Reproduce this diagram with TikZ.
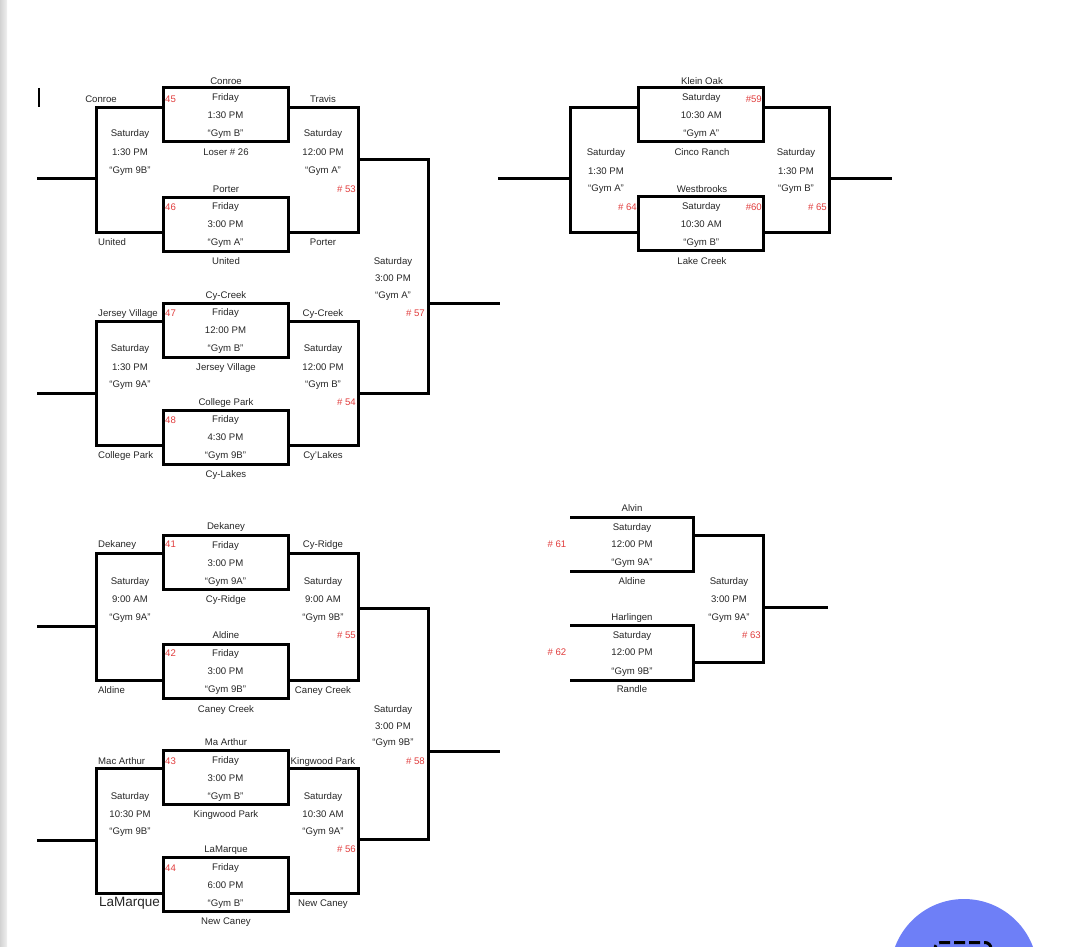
\documentclass[tikz,border=0pt]{standalone}
\usepackage{fontspec}
\setmainfont{Liberation Sans}
\definecolor{numred}{HTML}{E03C3C}
\definecolor{btnblue}{HTML}{6E7FF7}
\newcommand\gametxt[3]{\begin{tabular}{@{}c@{}}#1\\#2\\#3\end{tabular}}
\tikzset{
  bk/.style={line width=3pt},
  tx/.style={font=\fontsize{9.6}{18}\selectfont,text=black!85,inner sep=0pt,anchor=base,yshift=-3.5pt},
  lt/.style={tx,anchor=base west},
  nr/.style={tx,text=numred,anchor=base west},
  nre/.style={tx,text=numred,anchor=base east},
  game/.style={draw,line width=3pt,minimum width=125pt,minimum height=53pt,inner sep=0pt,
    font=\fontsize{9.6}{18}\selectfont,text=black!85}
}
\begin{document}
\begin{tikzpicture}[x=1pt,y=-1pt]
\useasboundingbox (0,0) rectangle (1071,947);
\fill[left color=gray!35,right color=gray!12] (0,0) rectangle (7,947);
\draw[line width=2pt] (39,88) -- (39,107);

% top left quarter
\node[game] (m45) at (225.5,115) {\gametxt{Friday}{1:30 PM}{“Gym B”}};
\node[game] (m46) at (225.5,224) {\gametxt{Friday}{3:00 PM}{“Gym A”}};
\node[game] (m47) at (225.5,330) {\gametxt{Friday}{12:00 PM}{“Gym B”}};
\node[game] (m48) at (225.5,437) {\gametxt{Friday}{4:30 PM}{“Gym 9B”}};
\draw[bk] (m45.west |- 0,108) -| (96,232) -- (m46.west |- 0,232);
\draw[bk] (m45.east |- 0,108) -| (358,232) -- (m46.east |- 0,232);
\draw[bk] (m47.west |- 0,321) -| (96,445) -- (m48.west |- 0,445);
\draw[bk] (m47.east |- 0,321) -| (358,445) -- (m48.east |- 0,445);
\coordinate (in1) at (37,178);
\coordinate (in2) at (37,393);
\coordinate (out57) at (500,303);
\draw[bk] (in1) -- (96,178);
\draw[bk] (in2) -- (96,393);
\draw[bk] (358,160) -| (428,393) -- (358,393);
\draw[bk] (428,303) -- (out57);

\node[tx] (t1) at (226,80.7) {Conroe};
\node[tx] (t2) at (101,98.7) {Conroe};
\node[nr] (n45) at (165,98.7) {45};
\node[tx] (t3) at (323,98.7) {Travis};
\node[tx] (t4) at (130,133) {Saturday};
\node[tx] (t5) at (130,151.7) {1:30 PM};
\node[tx] (t6) at (130,170) {“Gym 9B”};
\node[tx] (t7) at (226,151.7) {Loser \# 26};
\node[tx] (t8) at (323,133) {Saturday};
\node[tx] (t9) at (323,151.7) {12:00 PM};
\node[tx] (t10) at (323,170) {“Gym A”};
\node[tx] (t11) at (226,188.7) {Porter};
\node[nre] (n53) at (356,188.7) {\# 53};
\node[nr] (n46) at (165,207) {46};
\node[lt] (t12) at (98,241.7) {United};
\node[tx] (t13) at (323,241.7) {Porter};
\node[tx] (t14) at (226,260.7) {United};
\node[tx] (t15) at (393,260.7) {Saturday};
\node[tx] (t16) at (393,278) {3:00 PM};
\node[tx] (t17) at (393,295) {“Gym A”};
\node[nre] (n57) at (425,312.7) {\# 57};

\node[tx] (t18) at (226,294.7) {Cy-Creek};
\node[lt] (t19) at (98,312.7) {Jersey Village};
\node[nr] (n47) at (165,312.7) {47};
\node[tx] (t20) at (323,312.7) {Cy-Creek};
\node[tx] (t21) at (130,348) {Saturday};
\node[tx] (t22) at (130,366.7) {1:30 PM};
\node[tx] (t23) at (130,384) {“Gym 9A”};
\node[tx] (t24) at (226,366.7) {Jersey Village};
\node[tx] (t25) at (323,348) {Saturday};
\node[tx] (t26) at (323,366.7) {12:00 PM};
\node[tx] (t27) at (323,384) {“Gym B”};
\node[tx] (t28) at (226,401.7) {College Park};
\node[nre] (n54) at (356,401.7) {\# 54};
\node[nr] (n48) at (165,420) {48};
\node[lt] (t29) at (98,455) {College Park};
\node[tx] (t30) at (323,455) {Cy'Lakes};
\node[tx] (t31) at (226,474) {Cy-Lakes};

% bottom left quarter
\node[game] (m41) at (225.5,562.5) {\gametxt{Friday}{3:00 PM}{“Gym 9A”}};
\node[game] (m42) at (225.5,671.3) {\gametxt{Friday}{3:00 PM}{“Gym 9B”}};
\node[game] (m43) at (225.5,777.5) {\gametxt{Friday}{3:00 PM}{“Gym B”}};
\node[game] (m44) at (225.5,884.8) {\gametxt{Friday}{6:00 PM}{“Gym B”}};
\draw[bk] (m41.west |- 0,553) -| (96,680) -- (m42.west |- 0,680);
\draw[bk] (m41.east |- 0,553) -| (358,680) -- (m42.east |- 0,680);
\draw[bk] (m43.west |- 0,768) -| (96,893) -- (m44.west |- 0,893);
\draw[bk] (m43.east |- 0,768) -| (358,893) -- (m44.east |- 0,893);
\coordinate (in3) at (37,626);
\coordinate (in4) at (37,840);
\coordinate (out58) at (500,751);
\draw[bk] (in3) -- (96,626);
\draw[bk] (in4) -- (96,840);
\draw[bk] (358,608) -| (428,839) -- (358,839);
\draw[bk] (428,751) -- (out58);

\node[tx] (t32) at (226,526) {Dekaney};
\node[lt] (t33) at (98,543.7) {Dekaney};
\node[nr] (n41) at (165,543.7) {41};
\node[tx] (t34) at (323,543.7) {Cy-Ridge};
\node[tx] (t35) at (130,581) {Saturday};
\node[tx] (t36) at (130,599) {9:00 AM};
\node[tx] (t37) at (130,616.7) {“Gym 9A”};
\node[tx] (t38) at (226,599) {Cy-Ridge};
\node[tx] (t39) at (323,581) {Saturday};
\node[tx] (t40) at (323,599) {9:00 AM};
\node[tx] (t41) at (323,616.7) {“Gym 9B”};
\node[tx] (t42) at (226,635) {Aldine};
\node[nre] (n55) at (356,635) {\# 55};
\node[nr] (n42) at (165,653) {42};
\node[lt] (t43) at (98,690) {Aldine};
\node[tx] (t44) at (323,690) {Caney Creek};
\node[tx] (t45) at (226,709) {Caney Creek};
\node[tx] (t46) at (393,709) {Saturday};
\node[tx] (t47) at (393,725.7) {3:00 PM};
\node[tx] (t48) at (393,742.3) {“Gym 9B”};
\node[nre] (n58) at (425,761) {\# 58};

\node[tx] (t49) at (226,742) {Ma Arthur};
\node[lt] (t50) at (98,761) {Mac Arthur};
\node[nr] (n43) at (165,761) {43};
\node[tx] (t51) at (323,761) {Kingwood Park};
\node[tx] (t52) at (130,796) {Saturday};
\node[tx] (t53) at (130,814) {10:30 PM};
\node[tx] (t54) at (130,830.7) {“Gym 9B”};
\node[tx] (t55) at (226,814) {Kingwood Park};
\node[tx] (t56) at (323,796) {Saturday};
\node[tx] (t57) at (323,814) {10:30 AM};
\node[tx] (t58) at (323,830.7) {“Gym 9A”};
\node[tx] (t59) at (226,849.3) {LaMarque};
\node[nre] (n56) at (356,849.3) {\# 56};
\node[nr] (n44) at (165,868) {44};
\node[lt,font=\fontsize{13.5}{16}\selectfont,yshift=-1.5pt] (t60) at (99,901.7) {LaMarque};
\node[tx] (t61) at (323,903.3) {New Caney};
\node[tx] (t62) at (226,921) {New Caney};

% top right
\node[game] (m59) at (701.3,115) {\gametxt{Saturday}{10:30 AM}{“Gym A”}};
\node[game] (m60) at (701.3,223.7) {\gametxt{Saturday}{10:30 AM}{“Gym B”}};
\draw[bk] (m59.west |- 0,108) -| (570,232) -- (m60.west |- 0,232);
\draw[bk] (m59.east |- 0,108) -| (829,232) -- (m60.east |- 0,232);
\coordinate (in5) at (498,178);
\coordinate (out65) at (892,178);
\draw[bk] (in5) -- (570,178);
\draw[bk] (829,178) -- (out65);
\node[tx] (t63) at (702,80.7) {Klein Oak};
\node[nre] (n59) at (762,98.7) {\#59};
\node[tx] (t64) at (702,151.7) {Cinco Ranch};
\node[tx] (t65) at (606,151.7) {Saturday};
\node[tx] (t66) at (606,170.7) {1:30 PM};
\node[tx] (t67) at (606,188.3) {“Gym A”};
\node[nre] (n64) at (637,207) {\# 64};
\node[tx] (t68) at (796,151.7) {Saturday};
\node[tx] (t69) at (796,170.7) {1:30 PM};
\node[tx] (t70) at (796,188.3) {“Gym B”};
\node[nre] (n65) at (827,207) {\# 65};
\node[tx] (t71) at (702,188.7) {Westbrooks};
\node[nre] (n60) at (762,207) {\#60};
\node[tx] (t72) at (702,260.7) {Lake Creek};

% bottom right
\draw[bk] (570,517) -| (693,571) -- (570,571);
\draw[bk] (570,625) -| (693,680) -- (570,680);
\draw[bk] (693,535) -| (763,662) -- (693,662);
\coordinate (out63) at (828,607);
\draw[bk] (763,607) -- (out63);
\node[tx] (t73) at (632,508.3) {Alvin};
\node[tx] (t74) at (632,526.7) {Saturday};
\node[tx] (t75) at (632,544) {12:00 PM};
\node[tx] (t76) at (632,561.7) {“Gym 9A”};
\node[tx,text=numred] (n61) at (557,544) {\# 61};
\node[tx] (t77) at (632,581) {Aldine};
\node[tx] (t78) at (729,581) {Saturday};
\node[tx] (t79) at (729,599) {3:00 PM};
\node[tx] (t80) at (729,616.7) {“Gym 9A”};
\node[nre] (n63) at (761,635) {\# 63};
\node[tx] (t81) at (632,616.7) {Harlingen};
\node[tx] (t82) at (632,635) {Saturday};
\node[tx] (t83) at (632,652.3) {12:00 PM};
\node[tx] (t84) at (632,670.7) {“Gym 9B”};
\node[tx,text=numred] (n62) at (557,652.3) {\# 62};
\node[tx] (t85) at (632,689.3) {Randle};

% button
\fill[btnblue] (964,972.6) circle (73.6);
\draw[line width=3pt,rounded corners=6pt,dash pattern=on 11pt off 4pt] (935,956) |- (991,942.5) -- (991,956);
\end{tikzpicture}
\end{document}
